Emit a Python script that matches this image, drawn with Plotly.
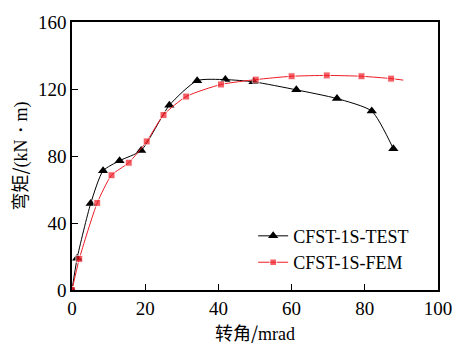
import plotly.graph_objects as go

test_x = [0, 1.4, 5.1, 8.5, 13.0, 18.9, 26.6, 34.2, 41.9, 49.6, 61.3, 72.4, 81.9, 87.8]
test_y = [0, 18.9, 51.6, 71.2, 77.2, 83.3, 110.3, 125.0, 125.6, 124.3, 119.5, 114.3, 106.8, 84.3]

fem_x = [0, 2.0, 6.9, 10.8, 15.5, 20.4, 25.0, 31.2, 40.7, 50.2, 60.0, 69.6, 79.1, 87.2, 90.5]
fem_y = [0, 18.6, 52.0, 68.5, 76.0, 88.7, 104.5, 115.5, 122.7, 125.6, 127.6, 128.1, 127.6, 126.2, 125.3]
fem_marker = [7] * 14 + [0]

x_ticks = [0, 20, 40, 60, 80, 100]
y_ticks = [0, 40, 80, 120, 160]

serif = "Liberation Serif"
cjk = "Noto Sans CJK SC"

fig = go.Figure()
fig.add_trace(go.Scatter(
    x=test_x, y=test_y, mode="lines+markers", name="CFST-1S-TEST",
    line=dict(color="black", width=1, shape="spline", smoothing=0.6),
    marker=dict(symbol="triangle-up", size=9, color="black"),
))
fig.add_trace(go.Scatter(
    x=fem_x, y=fem_y, mode="lines+markers", name="CFST-1S-FEM",
    line=dict(color="#ee1c25", width=1, shape="spline", smoothing=0.6),
    marker=dict(symbol="square", size=fem_marker, color="#ee1c25"),
))

axis_common = dict(
    showgrid=False, zeroline=False, showline=True, linecolor="black", linewidth=1.5,
    mirror=True, ticks="inside", ticklen=6, tickwidth=1, tickcolor="black",
    tickfont=dict(family=serif, size=19, color="black"),
)
fig.update_xaxes(range=[0, 100], tickvals=x_ticks, **axis_common,
                 title=dict(text="转角/<span style='font-family:Liberation Serif'>mrad</span>",
                            font=dict(family=cjk, size=18, color="black"), standoff=2))
fig.update_yaxes(range=[0, 160], tickvals=y_ticks, **axis_common,
                 title=dict(text="弯矩/<span style='font-family:Liberation Serif'>(kN・m)</span>",
                            font=dict(family=cjk, size=18, color="black"), standoff=6))

fig.update_layout(
    width=464, height=352,
    margin=dict(l=72, r=23, t=12, b=62),
    plot_bgcolor="white", paper_bgcolor="white",
    showlegend=True,
    legend=dict(x=0.495, y=0.27, xanchor="left", yanchor="top",
                font=dict(family=serif, size=18, color="black"),
                bgcolor="rgba(0,0,0,0)", itemwidth=30, tracegroupgap=0),
)

fig.write_html("out.html")
